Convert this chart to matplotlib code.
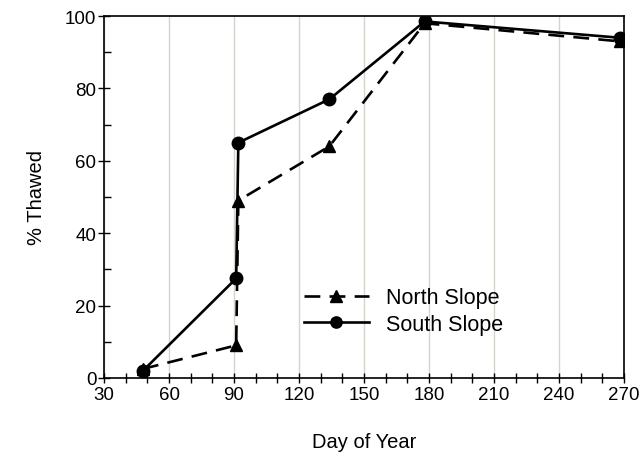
import matplotlib
matplotlib.use("Agg")
import matplotlib.pyplot as plt
from matplotlib.ticker import MultipleLocator

plt.rcParams['font.family'] = ['Liberation Sans', 'DejaVu Sans']

# day of year / percent thawed
north_day = [48, 91, 92, 134, 178, 268]
north_thawed = [2.5, 9, 49, 64, 98, 93]
south_day = [48, 91, 92, 134, 178, 268]
south_thawed = [2, 27.5, 65, 77, 98.5, 94]

fig = plt.figure(figsize=(6.44, 4.56), dpi=100)
ax = fig.add_axes([0.1615, 0.169, 0.8075, 0.7937])

ax.plot(north_day, north_thawed, color='black', linestyle=(0, (6, 3.5)), linewidth=1.9,
        marker='^', markersize=9, label='North Slope')
ax.plot(south_day, south_thawed, color='black', linestyle='-', linewidth=1.9,
        marker='o', markersize=9, label='South Slope')

ax.set_xlim(30, 270)
ax.set_ylim(0, 100)
ax.xaxis.set_major_locator(MultipleLocator(30))
ax.xaxis.set_minor_locator(MultipleLocator(10))
ax.yaxis.set_major_locator(MultipleLocator(20))
ax.yaxis.set_minor_locator(MultipleLocator(10))
ax.grid(True, axis='x', which='major', color='#d4d4cc', linewidth=1)
ax.set_axisbelow(True)

ax.tick_params(axis='x', which='both', direction='inout', length=7, width=1, labelsize=13.5, pad=2)
ax.tick_params(axis='y', which='major', direction='inout', length=9, width=1, labelsize=13.5, pad=1)
ax.tick_params(axis='y', which='minor', direction='in', length=5, width=1)
for s in ax.spines.values():
    s.set_linewidth(1.2)

ax.set_xlabel('Day of Year', fontsize=14.5, labelpad=21)
ax.set_ylabel('% Thawed', fontsize=14.5, labelpad=14)

ax.legend(loc='upper left', bbox_to_anchor=(0.442, 0.41), bbox_transform=fig.transFigure,
          frameon=False, fontsize=15.5, handlelength=3.0, handletextpad=0.8, labelspacing=0.25,
          markerscale=0.9)

fig.savefig('out.png', dpi=100)
